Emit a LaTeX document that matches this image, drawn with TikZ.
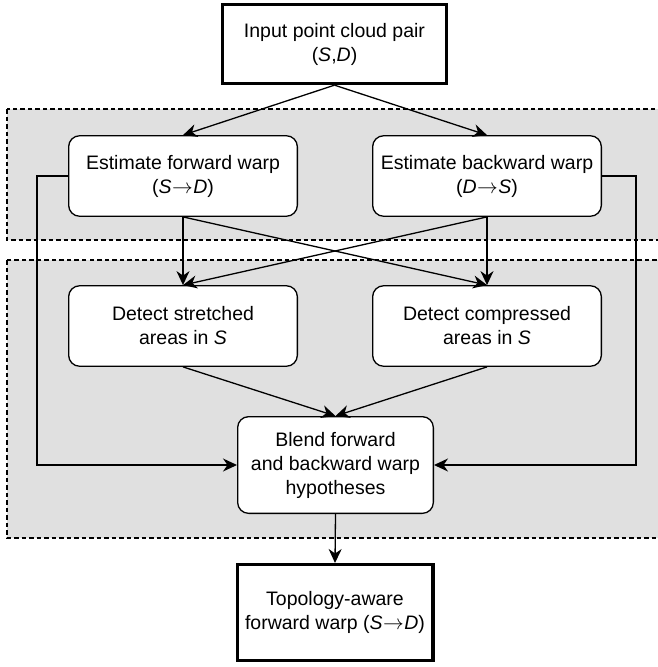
\documentclass[tikz,border=0pt]{standalone}
\usepackage{fontspec}
\setmainfont{Liberation Sans}
\usetikzlibrary{arrows.meta}
\definecolor{regiongray}{HTML}{E0E0E0}
\newcommand{\arrowto}{\kern0.5pt$\rightarrow$\kern0.5pt}
\tikzset{
  base/.style={draw=black, fill=white, align=center, inner sep=2pt,
    font=\fontsize{19.5}{24}\selectfont},
  thickbox/.style={base, line width=3.3pt, minimum width=224pt, minimum height=79pt},
  roundbox/.style={base, line width=1.3pt, rounded corners=11pt, minimum width=228.7pt, minimum height=80.5pt},
  region/.style={fill=regiongray, draw=black, line width=1.3pt, dash pattern=on 4.5pt off 3pt},
  arr/.style={line width=1.3pt, -{Stealth[length=14pt,width=13pt,inset=4.5pt]}},
}
\begin{document}
\begin{tikzpicture}[x=1pt,y=-1pt]
\useasboundingbox (0,0) rectangle (658,667);
% regions
\path[region] (7,109) rectangle (680,240);
\path[region] (7,260) rectangle (680,538);
% nodes
\node[thickbox] (top) at (334.5,44) {Input point cloud pair\\(\textit{S},\textit{D})};
\node[roundbox] (fwd) at (183,176) {Estimate forward warp\\(\textit{S}\arrowto\textit{D})};
\node[roundbox] (bwd) at (487,176) {Estimate backward warp\\(\textit{D}\arrowto\textit{S})};
\node[roundbox] (str) at (183,326) {Detect stretched\\areas in \textit{S}};
\node[roundbox] (cmp) at (487,326) {Detect compressed\\areas in \textit{S}};
\node[roundbox, minimum width=195.7pt, minimum height=96.7pt] (blend) at (335.5,465) {Blend forward\\and backward warp\\hypotheses};
\node[thickbox, minimum width=195.7pt, minimum height=95.7pt] (final) at (335,612.5) {Topology-aware\\forward warp (\textit{S}\arrowto\textit{D})};
% connectors
\draw[arr] (top.south) -- (fwd.north);
\draw[arr] (top.south) -- (bwd.north);
\draw[arr] (fwd.south) -- (str.north);
\draw[arr] (fwd.south) -- (cmp.north);
\draw[arr] (bwd.south) -- (str.north);
\draw[arr] (bwd.south) -- (cmp.north);
\draw[arr] (str.south) -- (blend.north);
\draw[arr] (cmp.south) -- (blend.north);
\draw[arr] (fwd.west) -- ++(-31,0) |- (blend.west);
\draw[arr] (bwd.east) -- ++(34,0) |- (blend.east);
\draw[arr] (blend.south) -- (final.north);
\end{tikzpicture}
\end{document}
